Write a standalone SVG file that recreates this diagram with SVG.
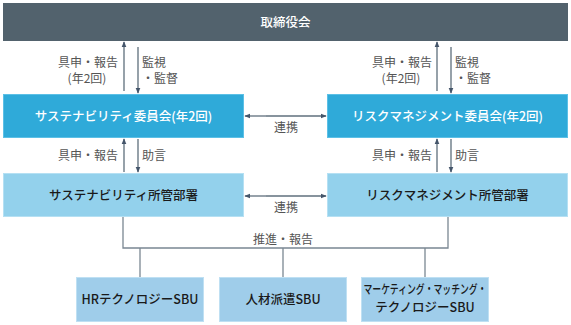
<svg xmlns="http://www.w3.org/2000/svg" width="571" height="325" viewBox="0 0 571 325">
<defs>
<marker id="ah" viewBox="0 0 8 8" refX="7" refY="4" markerWidth="6" markerHeight="6" orient="auto-start-reverse" markerUnits="userSpaceOnUse">
<path d="M0,0.8 L8,4 L0,7.2 Z" fill="#44556a"/>
</marker>
<style>
.lbl{font-family:"Noto Sans CJK JP","Noto Sans",sans-serif;font-size:12px;fill:#555;}
.bx{font-family:"Noto Sans CJK JP","Noto Sans",sans-serif;font-size:12.5px;font-weight:500;text-anchor:middle;}
.w{fill:#fff;}
.d{fill:#1a1a1a;}
.arr{stroke:#5f6f7c;stroke-width:1.3;fill:none;marker-end:url(#ah);}
.ln{stroke:#7a8792;stroke-width:1.3;fill:none;}
.com{fill:#2faad9;stroke:#5cc0e6;stroke-width:1;}
.dep{fill:#93d1ec;stroke:#b5e0f3;stroke-width:1;}
.sbu{fill:#9fcdea;stroke:#bfe0f3;stroke-width:1;}
</style>
</defs>
<rect width="571" height="325" fill="#fff"/>
<g id="board">
<rect x="3" y="3" width="565" height="38" fill="#52626d"/>
<text class="bx w" x="285.5" y="27" font-size="13">取締役会</text>
</g>
<g id="sus-committee">
<rect class="com" x="3.5" y="94.5" width="240" height="43"/>
<text class="bx w" x="123.5" y="121">サステナビリティ委員会(年2回)</text>
</g>
<g id="risk-committee">
<rect class="com" x="327.5" y="94.5" width="240" height="43"/>
<text class="bx w" x="447.5" y="121">リスクマネジメント委員会(年2回)</text>
</g>
<g id="sus-dept">
<rect class="dep" x="3.5" y="173.5" width="240" height="43"/>
<text class="bx d" x="123.5" y="200">サステナビリティ所管部署</text>
</g>
<g id="risk-dept">
<rect class="dep" x="327.5" y="173.5" width="240" height="43"/>
<text class="bx d" x="447.5" y="200">リスクマネジメント所管部署</text>
</g>
<g id="sbu-hr">
<rect class="sbu" x="76.5" y="277.5" width="127" height="44"/>
<text class="bx d" x="140" y="304">HRテクノロジーSBU</text>
</g>
<g id="sbu-staffing">
<rect class="sbu" x="219.5" y="277.5" width="127" height="44"/>
<text class="bx d" x="283" y="304">人材派遣SBU</text>
</g>
<g id="sbu-mmt">
<rect class="sbu" x="361.5" y="277.5" width="127" height="44"/>
<text class="bx d" x="425" y="294" font-size="10.5" textLength="123" lengthAdjust="spacingAndGlyphs">マーケティング・マッチング・</text>
<text class="bx d" x="425" y="312" font-size="10.5">テクノロジーSBU</text>
</g>
<g id="connectors">
<line class="arr" x1="124" y1="91" x2="124" y2="42"/>
<line class="arr" x1="138" y1="47" x2="138" y2="93"/>
<line class="arr" x1="437" y1="91" x2="437" y2="42"/>
<line class="arr" x1="451" y1="47" x2="451" y2="93"/>
<line class="arr" x1="124" y1="172" x2="124" y2="139"/>
<line class="arr" x1="138" y1="139" x2="138" y2="172"/>
<line class="arr" x1="437" y1="172" x2="437" y2="139"/>
<line class="arr" x1="451" y1="139" x2="451" y2="172"/>
<line class="arr" x1="266" y1="116" x2="326" y2="116"/>
<line class="arr" x1="266" y1="116" x2="245" y2="116"/>
<line class="arr" x1="266" y1="196" x2="326" y2="196"/>
<line class="arr" x1="266" y1="196" x2="245" y2="196"/>
<polyline class="ln" points="123,217 123,248 448,248 448,217"/>
<line class="ln" x1="140" y1="248" x2="140" y2="277"/>
<line class="ln" x1="283" y1="248" x2="283" y2="277"/>
<line class="ln" x1="425" y1="248" x2="425" y2="277"/>
</g>
<g id="labels">
<text class="lbl" x="118" y="67" text-anchor="end">具申・報告</text>
<text class="lbl" x="87" y="83" text-anchor="middle">(年2回)</text>
<text class="lbl" x="142" y="67">監視</text>
<text class="lbl" x="142" y="83">・監督</text>
<text class="lbl" x="432" y="67" text-anchor="end">具申・報告</text>
<text class="lbl" x="401" y="83" text-anchor="middle">(年2回)</text>
<text class="lbl" x="455" y="67">監視</text>
<text class="lbl" x="455" y="83">・監督</text>
<text class="lbl" x="118" y="160" text-anchor="end">具申・報告</text>
<text class="lbl" x="142" y="160">助言</text>
<text class="lbl" x="432" y="160" text-anchor="end">具申・報告</text>
<text class="lbl" x="455" y="160">助言</text>
<text class="lbl" x="286" y="132" text-anchor="middle">連携</text>
<text class="lbl" x="286" y="212" text-anchor="middle">連携</text>
<text class="lbl" x="283" y="244" text-anchor="middle">推進・報告</text>
</g>
</svg>
